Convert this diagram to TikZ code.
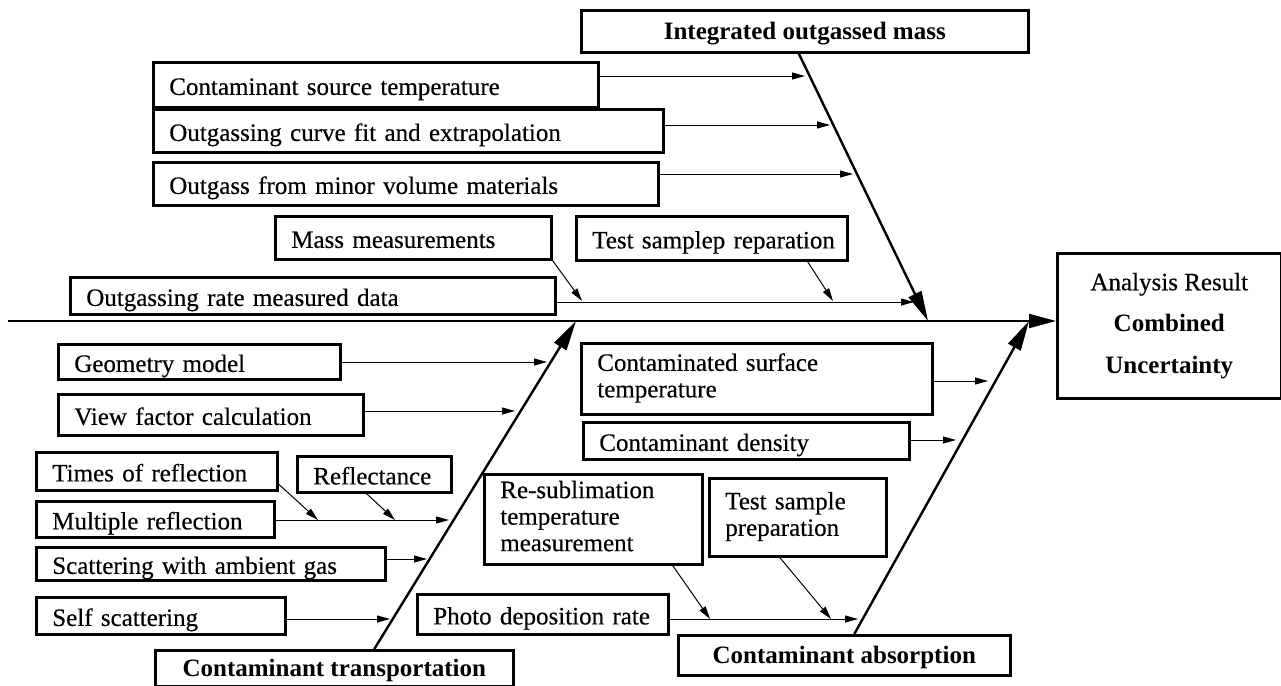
\documentclass[tikz,border=0pt]{standalone}
\usepackage{fontspec}
\setmainfont{Liberation Serif}[UprightFeatures={FakeBold=0.35}]
\usetikzlibrary{calc}
\usetikzlibrary{arrows.meta}

\begin{document}
\begin{tikzpicture}[x=0.5pt,y=-0.5pt,
  every node/.style={font=\fontsize{12.5}{13.25}\selectfont},
  causebox/.style={draw,line width=1.3pt,anchor=north west,align=left,
    inner xsep=8pt,inner ysep=0pt,text height=10.1pt,text depth=0pt},
  multibox/.style={causebox,text height={},text depth={},
    execute at begin node=\strut,execute at end node=\strut},
  titlebox/.style={draw,line width=1.3pt,anchor=north west,align=center,
    inner sep=0pt,text height=8.3pt,text depth=0pt,
    font=\fontsize{12.5}{13.25}\selectfont\bfseries},
  feed/.style={line width=0.5pt,-{Triangle[length=6.5pt,width=3.5pt]}},
  bone/.style={line width=1.2pt,-{Triangle[length=15pt,width=7pt]}},
  spine/.style={line width=1pt,-{Triangle[length=13.5pt,width=7pt]}}]

  \useasboundingbox (0,0) rectangle (1281,686);

  % main groups
  \node[titlebox,minimum width=223.5pt,minimum height=21pt] (integ) at (580,9) {Integrated outgassed mass};
  \node[titlebox,minimum width=179pt,minimum height=18pt] (transp) at (154,649) {Contaminant transportation};
  \node[titlebox,minimum width=166pt,minimum height=20pt] (absorp) at (677,634) {Contaminant absorption};
  \node[draw,line width=1.3pt,anchor=north west,align=center,inner sep=0pt,
    minimum width=112pt,minimum height=72.5pt,font=\fontsize{12.5}{20.75}\selectfont]
    (result) at (1056,252) {Analysis Result\\\textbf{Combined}\\\textbf{Uncertainty}};

  % upper causes
  \node[causebox,text width=206.5pt,minimum height=22.5pt] (cst) at (152,61) {Contaminant source temperature};
  \node[causebox,text width=239pt,minimum height=21.5pt] (ocf) at (152,108) {Outgassing curve fit and extrapolation};
  \node[causebox,text width=236.5pt,minimum height=21.5pt] (omv) at (152,161) {Outgass from minor volume materials};
  \node[causebox,text width=122pt,minimum height=21.5pt] (mass) at (274,215) {Mass measurements};
  \node[causebox,text width=119.5pt,minimum height=22pt] (tsr) at (575,215) {\mbox{Test samplep reparation}};
  \node[causebox,text width=226.5pt,minimum height=18.5pt] (ormd) at (69,276) {Outgassing rate measured data};

  % transportation causes
  \node[causebox,text width=125pt,minimum height=17.5pt] (geo) at (57,343) {Geometry model};
  \node[causebox,text width=136.5pt,minimum height=20.5pt] (vfc) at (57,393) {View factor calculation};
  \node[causebox,text width=104.5pt,minimum height=19pt] (times) at (35,451) {Times of reflection};
  \node[causebox,text width=61pt,minimum height=18pt] (refl) at (296,455) {Reflectance};
  \node[causebox,text width=103pt,minimum height=18pt] (multi) at (35,500) {Multiple reflection};
  \node[causebox,text width=158.5pt,minimum height=16.5pt] (scat) at (35,546) {Scattering with ambient gas};
  \node[causebox,text width=108.5pt,minimum height=18.5pt] (self) at (35,596) {Self scattering};

  % absorption causes
  \node[multibox,text width=159.5pt,minimum height=35.5pt] (cstemp) at (580,342) {Contaminated surface\\temperature};
  \node[causebox,text width=147pt,minimum height=18.5pt] (dens) at (582,421) {Contaminant density};
  \node[multibox,text width=93pt,minimum height=45pt] (resub) at (483,473) {Re-sublimation\\temperature\\measurement};
  \node[multibox,text width=72.5pt,minimum height=39pt] (tsp) at (708,477) {Test sample\\preparation};
  \node[causebox,text width=109.5pt,minimum height=20pt] (photo) at (416,593) {\mbox{Photo deposition rate}};

  % spine and bones
  \coordinate (tail) at (8,321);
  \coordinate (j1) at (928,321);
  \coordinate (j2) at (576,321);
  \coordinate (j3) at (1029,321);
  \draw[spine] (tail) -- (tail -| result.west);
  \draw[bone] ($(integ.south)+(-6,0)$) -- (j1);
  \draw[bone] ($(transp.north)+(40,0)$) -- (j2);
  \draw[bone] ($(absorp.north)+(10,0)$) -- (j3);

  % arrow tips on the bones
  \coordinate (t1) at (805,76);
  \coordinate (t2) at (830,125);
  \coordinate (t3) at (853,174);
  \coordinate (t4) at (914,302);
  \coordinate (t5) at (547,362);
  \coordinate (t6) at (515,411);
  \coordinate (t7) at (449,520);
  \coordinate (t8) at (427,559);
  \coordinate (t9) at (390,619);
  \coordinate (t10) at (988,381);
  \coordinate (t11) at (956,440);
  \coordinate (t12) at (858,619);

  \foreach \b/\t in {cst/t1,ocf/t2,omv/t3,ormd/t4,geo/t5,vfc/t6,multi/t7,
                     scat/t8,self/t9,cstemp/t10,dens/t11,photo/t12}
    \draw[feed] (\b.east |- \t) -- (\t);

  % sub-causes
  \draw[feed] (mass.south east) -- (582,301);
  \draw[feed] ($(tsr.south west)!0.85!(tsr.south east)$) -- (833,301);
  \draw[feed] ($(times.east)!0.63!(times.south east)$) -- (318,520);
  \draw[feed] ($(refl.south west)!0.45!(refl.south east)$) -- (395,520);
  \draw[feed] ($(resub.south west)!0.86!(resub.south east)$) -- (710,619);
  \draw[feed] ($(tsp.south west)!0.4!(tsp.south east)$) -- (831,619);

\end{tikzpicture}
\end{document}
